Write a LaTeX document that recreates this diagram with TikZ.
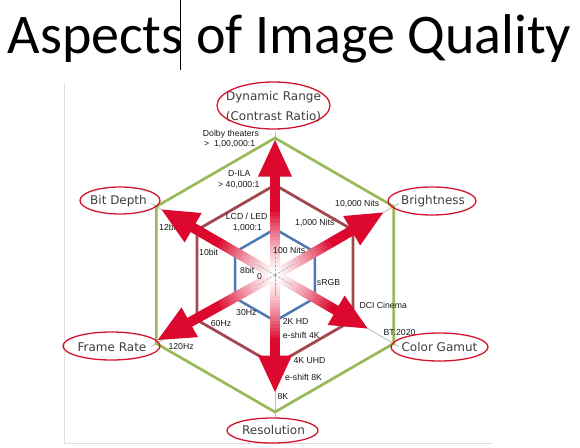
\documentclass[tikz,border=0pt]{standalone}
\usepackage{fontspec}
\setmainfont{Liberation Sans}
\newfontfamily\titlefont{Carlito}
\newfontfamily\labfont{DejaVu Sans}
\definecolor{hexgreen}{RGB}{152,186,88}
\definecolor{hexmaroon}{RGB}{162,72,80}
\definecolor{hexblue}{RGB}{78,122,178}
\definecolor{arrred}{RGB}{220,8,45}
\definecolor{ellred}{RGB}{212,20,45}
\definecolor{axisgray}{RGB}{190,190,190}
\definecolor{smtext}{RGB}{25,25,25}
\definecolor{bigtext}{RGB}{62,62,62}
\tikzset{
  sm/.style={anchor=base west, inner sep=0pt, font=\fontsize{8.7}{10}\selectfont, text=smtext},
  big/.style={anchor=base, inner sep=0pt, font=\labfont\fontsize{12}{14}\selectfont, text=bigtext},
  ring/.style={draw=ellred, line width=1.3pt},
  hexline/.style={line width=#1, line join=miter},
}
\newcommand\radarrow[2]{%
  \begin{scope}[rotate=#1]
    \foreach \i in {0,...,19}{
      \pgfmathsetmacro\ra{\i*3.5}
      \pgfmathsetmacro\rb{\ra+3.9}
      \pgfmathtruncatemacro\pc{min(100,100*((\ra+1.75)/65)^1.3)}
      \fill[arrred!\pc!white] (\ra,-5) rectangle (\rb,5);
    }
    \fill[arrred] (70,-5) rectangle (#2-35,5);
    \fill[arrred] (#2-36.5,-17) -- (#2,0) -- (#2-36.5,17) -- cycle;
  \end{scope}}
\begin{document}
\begin{tikzpicture}[x=1pt,y=-1pt]
\useasboundingbox (0,0) rectangle (580,447);
\fill[white] (0,0) rectangle (580,447);
% title and cursor
\node[anchor=base west, inner sep=0pt, font=\titlefont\fontsize{56}{60}\selectfont] (title) at (7.5,53) {Aspects of Image Quality};
\coordinate (curtop) at (180,0);
\coordinate (curbot) at (180,70);
\draw[line width=0.9pt] (curtop) -- (curbot);
% faint frame
\coordinate (fr1) at (64.5,83);
\coordinate (fr2) at (64.5,443.5);
\coordinate (fr3) at (492,443.5);
\draw[black!13, line width=0.9pt] (fr1) -- (fr2) -- (fr3);
% chart
\begin{scope}[shift={(275,275)}]
  \coordinate (c) at (0,0);
  \foreach \a in {30,90,...,330}{\draw[axisgray, line width=0.9pt] (c) -- (\a:143);}
  \draw[hexgreen, hexline=2.7pt] (30:137) \foreach \a in {90,150,...,330}{ -- (\a:137)} -- cycle;
  \draw[hexmaroon, hexline=2.8pt] (30:90) \foreach \a in {90,150,...,330}{ -- (\a:90)} -- cycle;
  \draw[hexblue, hexline=2.5pt] (30:46) \foreach \a in {90,150,...,330}{ -- (\a:46)} -- cycle;
\end{scope}
\node[sm] (b12) at (159,230) {12bit};
\begin{scope}[shift={(275,275)}]
  \radarrow{90}{135}
  \radarrow{150}{131}
  \radarrow{30}{125}
  \radarrow{209}{134}
  \radarrow{270}{117}
  \radarrow{330}{107}
  \foreach \a in {30,90,...,330}{\draw[gray!70, line width=0.6pt, dash pattern=on 2.5pt off 1.5pt] (0,0) -- (\a:21);}
\end{scope}
% small labels
\node[sm] (dolby1) at (202.7,136) {Dolby theaters};
\node[sm] (dolby2) at (204,146.5) {> \ 1,00,000:1};
\node[sm] (dila1) at (228,176.5) {D-ILA};
\node[sm] (dila2) at (218,187) {> 40,000:1};
\node[sm] (lcd1) at (225.7,219) {LCD / LED};
\node[sm] (lcd2) at (232.7,230) {1,000:1};
\node[sm] (b10) at (199,255) {10bit};
\node[sm] (b8) at (240,273) {8bit};
\node[sm] (zero) at (257,279.5) {0};
\node[sm] (n100) at (273,253) {100 Nits};
\node[sm] (n1000) at (295,225) {1,000 Nits};
\node[sm] (n10000) at (335,206) {10,000 Nits};
\node[sm] (srgb) at (316.7,285) {sRGB};
\node[sm] (dci) at (359.3,308) {DCI Cinema};
\node[sm] (bt) at (383.3,335) {BT.2020};
\node[sm] (hz30) at (236,315) {30Hz};
\node[sm] (hz60) at (210.7,326) {60Hz};
\node[sm] (hz120) at (168.3,349) {120Hz};
\node[sm] (hd2k) at (282.7,324) {2K HD};
\node[sm] (es4k) at (282.7,338) {e-shift 4K};
\node[sm] (uhd) at (293.3,363) {4K UHD};
\node[sm] (es8k) at (285,380) {e-shift 8K};
\node[sm] (k8) at (277.3,399) {8K};
% axis labels with ellipses
\node[big] (dr1) at (273.5,100) {Dynamic Range};
\node[big] (dr2) at (273.5,120) {(Contrast Ratio)};
\node[big] (bd) at (118.5,204.5) {Bit Depth};
\node[big] (brt) at (433,204.5) {Brightness};
\node[big] (cg) at (439.5,351.5) {Color Gamut};
\node[big] (frr) at (112,351.5) {Frame Rate};
\node[big] (res) at (273.5,434.5) {Resolution};
\draw[ring] (273.5,105.5) ellipse [x radius=56.5, y radius=23.5];
\draw[ring] (120,200.5) ellipse [x radius=40, y radius=13.5];
\draw[ring] (432,201) ellipse [x radius=44, y radius=14];
\draw[ring] (439.5,347) ellipse [x radius=48.5, y radius=14];
\draw[ring] (111.5,346) ellipse [x radius=48.5, y radius=14];
\draw[ring] (272.5,430.5) ellipse [x radius=45.5, y radius=12.5];
\end{tikzpicture}
\end{document}
